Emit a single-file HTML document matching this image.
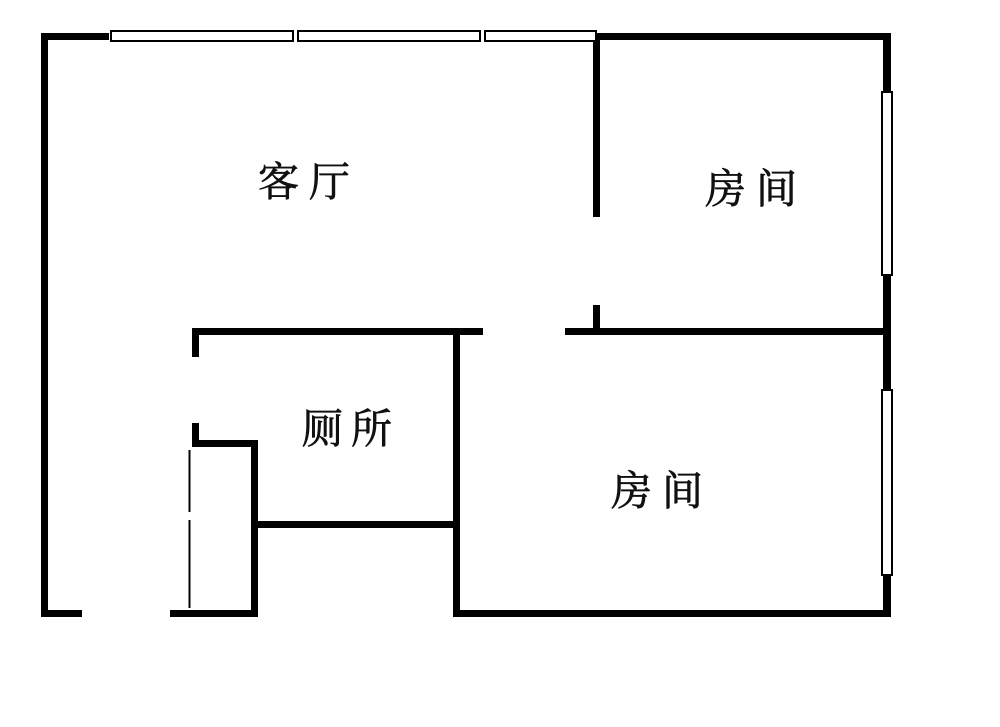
<!DOCTYPE html>
<html><head><meta charset="utf-8"><style>
html,body{margin:0;padding:0;background:#fff;}
svg{display:block}
text{font-family:"Liberation Serif","Noto Serif CJK SC",serif;fill:#111;stroke:#111;stroke-width:0.7;font-size:41px;}
</style></head><body>
<svg width="1000" height="727" viewBox="0 0 1000 727" xmlns="http://www.w3.org/2000/svg">
<rect width="1000" height="727" fill="#fff"/>
<g fill="#000">
<rect x="41" y="33" width="7" height="584"/>
<rect x="41" y="33" width="68" height="7"/>
<rect x="596" y="33" width="295" height="7"/>
<rect x="883" y="33" width="8" height="584"/>
<rect x="41" y="610" width="41" height="7"/>
<rect x="170" y="610" width="88" height="7"/>
<rect x="453" y="610" width="438" height="7"/>
<rect x="593" y="40" width="7" height="177"/>
<rect x="593" y="305" width="7" height="27"/>
<rect x="192" y="328" width="291" height="7"/>
<rect x="565" y="328" width="320" height="7"/>
<rect x="192" y="328" width="7" height="29"/>
<rect x="192" y="423" width="7" height="24"/>
<rect x="192" y="440" width="66" height="7"/>
<rect x="251" y="440" width="7" height="177"/>
<rect x="258" y="521" width="200" height="7"/>
<rect x="453" y="328" width="7" height="289"/>
<rect x="188.5" y="450" width="2" height="62"/>
<rect x="188.5" y="520" width="2" height="88"/>
</g>
<g fill="#fff" stroke="#000" stroke-width="2">
<rect x="111" y="31" width="182" height="10"/>
<rect x="298" y="31" width="182" height="10"/>
<rect x="485" y="31" width="111" height="10"/>
<rect x="882" y="92" width="10" height="183"/>
<rect x="882" y="390" width="10" height="185"/>
</g>
<text x="258" y="196" letter-spacing="10">客厅</text>
<text x="705" y="203" letter-spacing="10">房间</text>
<text x="302" y="443" font-size="39" letter-spacing="8">厕所</text>
<text x="611" y="505" letter-spacing="10">房间</text>
</svg>
</body></html>
